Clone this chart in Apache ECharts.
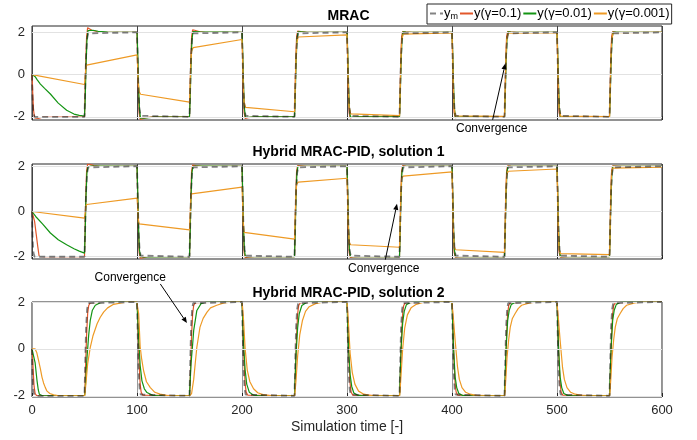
<!DOCTYPE html>
<html><head><meta charset="utf-8">
<script src="https://cdn.jsdelivr.net/npm/echarts@6/dist/echarts.min.js"></script>
<style>html,body{margin:0;padding:0;background:#fff}#c{width:697px;height:440px}</style>
</head><body><div id="c"></div>
<script>
// ---------------- data (time, value) ----------------
const xTicks = [0, 100, 200, 300, 400, 500, 600];
const yTicks = [-2, 0, 2];
const titles = ['MRAC', 'Hybrid MRAC-PID, solution 1', 'Hybrid MRAC-PID, solution 2'];
const seriesNames = ['y_m', 'y(γ=0.1)', 'y(γ=0.01)', 'y(γ=0.001)'];

// reference model output (same in the three panels)
const ym = [[0,0],[0.5,-1.1],[1,-1.6],[1.5,-1.85],[2.5,-2],[50,-2],
[50.5,-1],[51,0],[51.5,0.9],[52.5,1.7],[53.5,1.95],[55,2],[100,2],
[100.5,1],[101,0],[101.5,-0.9],[102.5,-1.7],[103.5,-1.95],[105,-2],[150,-2],
[150.5,-1],[151,0],[151.5,0.9],[152.5,1.7],[153.5,1.95],[155,2],[200,2],
[200.5,1],[201,0],[201.5,-0.9],[202.5,-1.7],[203.5,-1.95],[205,-2],[250,-2],
[250.5,-1],[251,0],[251.5,0.9],[252.5,1.7],[253.5,1.95],[255,2],[300,2],
[300.5,1],[301,0],[301.5,-0.9],[302.5,-1.7],[303.5,-1.95],[305,-2],[350,-2],
[350.5,-1],[351,0],[351.5,0.9],[352.5,1.7],[353.5,1.95],[355,2],[400,2],
[400.5,1],[401,0],[401.5,-0.9],[402.5,-1.7],[403.5,-1.95],[405,-2],[450,-2],
[450.5,-1],[451,0],[451.5,0.9],[452.5,1.7],[453.5,1.95],[455,2],[500,2],
[500.5,1],[501,0],[501.5,-0.9],[502.5,-1.7],[503.5,-1.95],[505,-2],[550,-2],
[550.5,-1],[551,0],[551.5,0.9],[552.5,1.7],[553.5,1.95],[555,2],[600,2]];

// panel 1 : MRAC
const mrac_g1 = [[0,0],[0.7,-0.9],[1.5,-1.7],[2.5,-2.05],[4,-2.12],[6,-2.08],[10,-2.02],[50,-2],
[50.5,-1.0],[51.2,0.6],[52,1.8],[53,2.22],[54.5,2.2],[57,2.1],[62,2.04],[70,2.0],[100,2],
[100.5,1.0],[101.2,-0.6],[102,-1.8],[103,-2.12],[105,-2.1],[109,-2.04],[115,-2],[150,-2],
[150.5,-1.0],[151.2,0.6],[152,1.8],[153,2.12],[155,2.1],[159,2.04],[165,2],[200,2],
[200.5,1.0],[201.2,-0.6],[202,-1.8],[203,-2.07],[206,-2.04],[212,-2],[250,-2],
[250.5,-1.0],[251.2,0.6],[252,1.8],[253,2.06],[256,2.03],[262,2],[300,2],
[300.5,1.0],[301.2,-0.6],[302,-1.8],[303,-2.05],[306,-2.02],[312,-2],[350,-2],
[350.5,-1.0],[351.2,0.6],[352,1.8],[353,2.04],[356,2.02],[362,2],[400,2],
[400.5,1.0],[401.2,-0.6],[402,-1.8],[403,-2.04],[406,-2.02],[412,-2],[450,-2],
[450.5,-1.0],[451.2,0.6],[452,1.8],[453,2.04],[456,2.02],[462,2],[500,2],
[500.5,1.0],[501.2,-0.6],[502,-1.8],[503,-2.03],[506,-2.01],[512,-2],[550,-2],
[550.5,-1.0],[551.2,0.6],[552,1.8],[553,2.03],[556,2.01],[562,2],[600,2]];
const mrac_g2 = [[0,0],[3,-0.1],[5,-0.25],[8,-0.45],[12,-0.65],[17.5,-0.92],[25,-1.35],[33,-1.69],[40,-1.87],[45,-1.93],[50,-1.96],
[50.6,-1.3],[51.4,0.3],[52.3,1.6],[53.3,2.08],[55,2.14],[58,2.1],[63,2.05],[72,2.01],[100,2],
[100.6,1.2],[101.4,-0.4],[102.3,-1.6],[103.3,-2.06],[105,-2.1],[109,-2.05],[116,-2.01],[150,-2],
[150.6,-1.2],[151.4,0.4],[152.3,1.6],[153.3,2.04],[155,2.06],[160,2.02],[200,2],
[200.6,1.2],[201.4,-0.4],[202.3,-1.6],[203.3,-2.03],[206,-2.03],[212,-2],[250,-2],
[250.6,-1.2],[251.4,0.4],[252.3,1.6],[253.3,2.02],[256,2.02],[262,2],[300,2],
[300.6,1.2],[301.4,-0.4],[302.3,-1.6],[303.3,-2.02],[306,-2.01],[312,-2],[350,-2],
[350.6,-1.2],[351.4,0.4],[352.3,1.6],[353.3,2.02],[356,2.01],[362,2],[400,2],
[400.6,1.2],[401.4,-0.4],[402.3,-1.6],[403.3,-2.02],[406,-2.01],[412,-2],[450,-2],
[450.6,-1.2],[451.4,0.4],[452.3,1.6],[453.3,2.02],[456,2.01],[462,2],[500,2],
[500.6,1.2],[501.4,-0.4],[502.3,-1.6],[503.3,-2.01],[512,-2],[550,-2],
[550.6,-1.2],[551.4,0.4],[552.3,1.6],[553.3,2.01],[562,2],[600,2]];
const mrac_g3 = [[0,0],[50,-0.47],[50.5,-0.2],[51.2,0.25],[52,0.45],[53.5,0.52],[100,0.93],
[100.5,0.5],[101.2,-0.4],[102,-0.8],[103.5,-0.93],[150,-1.3],
[150.5,-0.7],[151.2,0.5],[152,1.1],[153.5,1.28],[200,1.66],
[200.5,1.0],[201.2,-0.5],[202,-1.3],[203.5,-1.55],[250,-1.76],
[250.5,-1.1],[251.2,0.4],[252,1.45],[253.5,1.78],[300,1.88],
[300.5,1.2],[301.2,-0.4],[302,-1.5],[303.5,-1.86],[350,-1.94],
[350.5,-1.2],[351.2,0.4],[352,1.6],[353.5,1.92],[400,1.97],
[400.5,1.2],[401.2,-0.4],[402,-1.6],[403.5,-1.95],[450,-1.98],
[450.5,-1.2],[451.2,0.4],[452,1.6],[453.5,1.96],[500,1.99],
[500.5,1.2],[501.2,-0.4],[502,-1.6],[503.5,-1.97],[550,-1.99],
[550.5,-1.2],[551.2,0.4],[552,1.6],[553.5,1.98],[600,2]];

// panel 2 : hybrid solution 1
const sol1_g1 = [[0,0],[1.3,0],[2.5,-0.45],[4,-1.0],[5.5,-1.55],[6.8,-1.98],[8,-2.02],[12,-2],[50,-2],
[50.5,-1.0],[51.2,0.6],[52,1.8],[53,2.1],[55,2.08],[59,2.03],[65,2],[100,2],
[100.5,1.0],[101.2,-0.6],[102,-1.8],[103,-2.06],[105,-2.05],[110,-2],[150,-2],
[150.5,-1.0],[151.2,0.6],[152,1.8],[153,2.05],[156,2.03],[162,2],[200,2],
[200.5,1.0],[201.2,-0.6],[202,-1.8],[203,-2.04],[206,-2.02],[212,-2],[250,-2],
[250.5,-1.0],[251.2,0.6],[252,1.8],[253,2.03],[256,2.02],[262,2],[300,2],
[300.5,1.0],[301.2,-0.6],[302,-1.8],[303,-2.03],[306,-2.01],[312,-2],[350,-2],
[350.5,-1.0],[351.2,0.6],[352,1.8],[353,2.03],[356,2.01],[362,2],[400,2],
[400.5,1.0],[401.2,-0.6],[402,-1.8],[403,-2.02],[406,-2.01],[412,-2],[450,-2],
[450.5,-1.0],[451.2,0.6],[452,1.8],[453,2.02],[456,2.01],[462,2],[500,2],
[500.5,1.0],[501.2,-0.6],[502,-1.8],[503,-2.02],[512,-2],[550,-2],
[550.5,-1.0],[551.2,0.6],[552,1.8],[553,2.02],[562,2],[600,2]];
const sol1_g2 = [[0,0],[3.5,-0.22],[10,-0.55],[17.5,-0.95],[25,-1.25],[33,-1.47],[40,-1.65],[45,-1.75],[50,-1.84],
[50.6,-1.0],[51.4,0.6],[52.3,1.7],[53.3,1.98],[56,2.01],[100,2],
[100.6,1.0],[101.4,-0.6],[102.3,-1.7],[103.3,-2.0],[106,-2.01],[150,-2],
[150.6,-1.0],[151.4,0.6],[152.3,1.7],[153.3,2.0],[156,2.01],[200,2],
[200.6,1.0],[201.4,-0.6],[202.3,-1.7],[203.3,-2.0],[250,-2],
[250.6,-1.0],[251.4,0.6],[252.3,1.7],[253.3,2.0],[300,2],
[300.6,1.0],[301.4,-0.6],[302.3,-1.7],[303.3,-2.0],[350,-2],
[350.6,-1.0],[351.4,0.6],[352.3,1.7],[353.3,2.0],[400,2],
[400.6,1.0],[401.4,-0.6],[402.3,-1.7],[403.3,-2.0],[450,-2],
[450.6,-1.0],[451.4,0.6],[452.3,1.7],[453.3,2.0],[500,2],
[500.6,1.0],[501.4,-0.6],[502.3,-1.7],[503.3,-2.0],[550,-2],
[550.6,-1.0],[551.4,0.6],[552.3,1.7],[553.3,2.0],[600,2]];
const sol1_g3 = [[0,0],[50,-0.29],[50.5,-0.1],[51.2,0.2],[52,0.31],[53.5,0.34],[100,0.59],
[100.5,0.3],[101.2,-0.3],[102,-0.55],[103.5,-0.6],[150,-0.81],
[150.5,-0.3],[151.2,0.5],[152,0.78],[153.5,0.86],[200,1.08],
[200.5,0.5],[201.2,-0.5],[202,-0.92],[203.5,-1.0],[250,-1.22],
[250.5,-0.6],[251.2,0.6],[252,1.2],[253.5,1.3],[300,1.47],
[300.5,0.8],[301.2,-0.6],[302,-1.35],[303.5,-1.47],[350,-1.58],
[350.5,-0.9],[351.2,0.6],[352,1.45],[353.5,1.56],[400,1.75],
[400.5,1.0],[401.2,-0.6],[402,-1.55],[403.5,-1.69],[450,-1.81],
[450.5,-1.0],[451.2,0.6],[452,1.6],[453.5,1.78],[500,1.88],
[500.5,1.1],[501.2,-0.6],[502,-1.7],[503.5,-1.86],[550,-1.91],
[550.5,-1.1],[551.2,0.6],[552,1.75],[553.5,1.92],[600,1.96]];

// panel 3 : hybrid solution 2
const sol2_g1 = [[0,0],[0.5,-0.3],[1.2,-1.0],[2,-1.6],[3,-1.9],[4.5,-2],[50,-2],
[50.5,-1.6],[51.2,-0.5],[52,0.6],[53,1.5],[54,1.85],[55.5,1.97],[57,2],[100,2],
[100.5,1.6],[101.2,0.5],[102,-0.6],[103,-1.5],[104,-1.85],[105.5,-1.97],[107,-2],[150,-2],
[150.5,-1.6],[151.2,-0.5],[152,0.6],[153,1.5],[154,1.85],[155.5,1.97],[157,2],[200,2],
[200.5,1.6],[201.2,0.5],[202,-0.6],[203,-1.5],[204,-1.85],[205.5,-1.97],[207,-2],[250,-2],
[250.5,-1.6],[251.2,-0.5],[252,0.6],[253,1.5],[254,1.85],[255.5,1.97],[257,2],[300,2],
[300.5,1.6],[301.2,0.5],[302,-0.6],[303,-1.5],[304,-1.85],[305.5,-1.97],[307,-2],[350,-2],
[350.5,-1.6],[351.2,-0.5],[352,0.6],[353,1.5],[354,1.85],[355.5,1.97],[357,2],[400,2],
[400.5,1.6],[401.2,0.5],[402,-0.6],[403,-1.5],[404,-1.85],[405.5,-1.97],[407,-2],[450,-2],
[450.5,-1.6],[451.2,-0.5],[452,0.6],[453,1.5],[454,1.85],[455.5,1.97],[457,2],[500,2],
[500.5,1.6],[501.2,0.5],[502,-0.6],[503,-1.5],[504,-1.85],[505.5,-1.97],[507,-2],[550,-2],
[550.5,-1.6],[551.2,-0.5],[552,0.6],[553,1.5],[554,1.85],[555.5,1.97],[557,2],[600,2]];
const sol2_g2 = [[0,0],[1.5,-0.05],[3,-0.6],[4.8,-1.36],[6,-1.75],[7,-1.93],[10,-2],[50,-2],
[50.5,-1.85],[51.5,-1.1],[52.4,-0.36],[54,0.6],[55.5,1.22],[57.5,1.65],[60.3,1.86],[65,1.97],[70,2],[100,2],
[100.5,1.5],[101.5,0.5],[103,-0.7],[104.7,-1.36],[107,-1.7],[109.5,-1.86],[115,-1.98],[120,-2],[150,-2],
[150.5,-1.5],[151.5,-0.6],[153,0.2],[154,0.79],[157,1.64],[161,1.93],[166,2],[200,2],
[200.5,1.4],[201.5,0.2],[203,-0.9],[204.5,-1.5],[207,-1.85],[211,-1.97],[216,-2],[250,-2],
[250.5,-1.4],[251.5,-0.2],[253,0.9],[254.5,1.5],[257,1.85],[261,1.97],[266,2],[300,2],
[300.5,1.3],[301.5,0.0],[303,-1.1],[304.5,-1.6],[306.5,-1.88],[310,-1.97],[315,-2],[350,-2],
[350.5,-1.3],[351.5,0.0],[353,1.1],[354.5,1.6],[356.5,1.88],[360,1.97],[365,2],[400,2],
[400.5,1.3],[401.5,0.0],[403,-1.2],[404.5,-1.65],[406.5,-1.9],[410,-1.98],[414,-2],[450,-2],
[450.5,-1.3],[451.5,0.0],[453,1.2],[454.5,1.65],[456.5,1.9],[460,1.98],[464,2],[500,2],
[500.5,1.3],[501.5,0.0],[503,-1.2],[504.5,-1.65],[506.5,-1.9],[510,-1.98],[514,-2],[550,-2],
[550.5,-1.3],[551.5,0.0],[553,1.2],[554.5,1.65],[556.5,1.9],[560,1.98],[564,2],[600,2]];
const sol2_g3 = [[0,0],[3,0],[4.5,-0.15],[6.3,-0.5],[8,-0.85],[9.5,-1.2],[11,-1.45],[12.7,-1.65],[14.3,-1.8],[17,-1.9],[20.6,-1.96],[26,-2],[50,-2],
[50.5,-1.9],[51.5,-1.4],[53,-0.64],[55.5,0.07],[58,0.55],[62,1.07],[65,1.35],[68.2,1.57],[72,1.75],[77.7,1.9],[85,1.96],[92,2],[100,2],
[100.5,1.8],[101.6,1.5],[103,0.1],[104.5,-0.45],[106.3,-0.93],[109,-1.4],[112.7,-1.65],[117,-1.85],[122,-1.93],[128,-1.98],[135,-2],[150,-2],
[150.5,-1.97],[152,-1.9],[154,-1.3],[155.5,-0.6],[157,0.07],[160,0.93],[163,1.3],[166.7,1.57],[170,1.75],[176,1.86],[182,1.95],[190,2],[200,2],
[200.5,1.8],[201.5,1.2],[203,0.0],[205,-0.9],[207.5,-1.4],[211,-1.7],[215,-1.87],[220,-1.95],[228,-2],[250,-2],
[250.5,-1.85],[251.5,-1.3],[253,-0.3],[255,0.6],[257.5,1.2],[260.5,1.6],[264,1.8],[270,1.93],[278,2],[300,2],
[300.5,1.7],[301.5,1.0],[303,-0.2],[305,-1.0],[307.5,-1.5],[311,-1.8],[316,-1.93],[324,-2],[350,-2],
[350.5,-1.8],[351.5,-1.1],[353,0.0],[355,0.9],[357.5,1.45],[361,1.75],[366,1.9],[374,2],[400,2],
[400.5,1.7],[401.5,1.2],[403,0.36],[405.3,-0.79],[407,-1.3],[409.5,-1.65],[413,-1.85],[417.4,-1.93],[425,-2],[450,-2],
[450.5,-1.8],[451.5,-1.1],[452.4,-0.36],[454,0.4],[455.5,0.93],[457.5,1.3],[460,1.5],[463,1.72],[466.3,1.86],[474,1.96],[482,2],[500,2],
[500.5,1.7],[501.5,1.2],[503,0.36],[505.3,-0.8],[507,-1.3],[509.5,-1.65],[513,-1.85],[517.4,-1.93],[525,-2],[550,-2],
[550.5,-1.8],[551.5,-1.1],[552.4,-0.36],[554,0.4],[555.5,0.93],[557.5,1.3],[560,1.5],[563,1.72],[566.3,1.86],[574,1.96],[582,2],[600,2]];

// annotations: text anchor and arrow (data units of each panel)
const annotations = [
  {grid: 0, label: 'Convergence', at: [437.8, -2.56], from: [438.7, -2.14], to: [450.8, 0.53]},
  {grid: 1, label: 'Convergence', at: [335.0, -2.52], from: [336.5, -2.13], to: [347.6, 0.34]},
  {grid: 2, label: 'Convergence', at: [93.6, 3.02],  from: [122.2, 2.77], to: [147.6, 1.10]}
];

const panels = [
  {data: [mrac_g1, mrac_g2, mrac_g3], yMin: -2.15, yMax: 2.3},
  {data: [sol1_g1, sol1_g2, sol1_g3], yMin: -2.1, yMax: 2.1},
  {data: [sol2_g1, sol2_g2, sol2_g3], yMin: -2.05, yMax: 2.0}
];

// ---------------- styling ----------------
const FONT = 'Liberation Sans, Arial, Helvetica, sans-serif';
const colors = ['#E2572B', '#139413', '#EE9A25'];
const gridTops = [26, 164, 302];
const gridH = [94, 95, 95];
const vColors = ['#444', '#444', '#9a9a9a'];

const grids = [], xAxes = [], yAxes = [], series = [];
panels.forEach((p, i) => {
  grids.push({left: 32, top: gridTops[i], width: 630, height: gridH[i], show: true,
    borderColor: '#262626', borderWidth: 1, backgroundColor: 'transparent'});
  xAxes.push({type: 'value', gridIndex: i, min: 0, max: 600, interval: 100,
    axisLine: {show: false, onZero: false},
    axisTick: {show: true, inside: true, length: 4, lineStyle: {color: '#262626'}},
    axisLabel: {show: i === 2, fontSize: 13, color: '#262626', fontFamily: FONT, margin: 7},
    splitLine: {show: true, lineStyle: {color: vColors[i], width: 1}},
    name: i === 2 ? 'Simulation time [-]' : '', nameLocation: 'middle', nameGap: 23,
    nameTextStyle: {fontSize: 14, color: '#262626', fontFamily: FONT}});
  ['left', 'right'].forEach(pos => {
    yAxes.push({type: 'value', gridIndex: i, position: pos, min: p.yMin, max: p.yMax,
      axisLine: {show: false},
      axisTick: {show: true, inside: true, length: 4, customValues: yTicks, lineStyle: {color: '#262626'}},
      axisLabel: {show: pos === 'left', customValues: yTicks, fontSize: 13, color: '#262626', fontFamily: FONT, margin: 7},
      splitLine: {show: false}});
  });
  // horizontal grid lines
  series.push({type: 'line', name: 'grid' + i, xAxisIndex: i, yAxisIndex: 2 * i, data: [], z: 1, silent: true,
    markLine: {silent: true, symbol: ['none', 'none'], label: {show: false}, animation: false,
      lineStyle: {color: '#e2e2e2', type: 'solid', width: 1},
      data: yTicks.map(v => ({yAxis: v}))}});
  p.data.forEach((d, k) => {
    series.push({type: 'line', name: seriesNames[k + 1], xAxisIndex: i, yAxisIndex: 2 * i, data: d,
      symbol: 'none', showSymbol: false, z: 2 + k, lineStyle: {color: colors[k], width: 1.2}, itemStyle: {color: colors[k]}});
  });
  series.push({type: 'line', name: seriesNames[0], xAxisIndex: i, yAxisIndex: 2 * i, data: ym,
    symbol: 'none', showSymbol: false, z: 6, lineStyle: {color: 'rgba(30,30,30,0.55)', width: 1.8, type: [6, 4]},
    itemStyle: {color: 'rgba(30,30,30,0.8)'}});
});

const chart = echarts.init(document.getElementById('c'), null, {renderer: 'canvas'});
chart.setOption({
  animation: false,
  backgroundColor: '#fff',
  title: titles.map((t, i) => ({text: t, left: 'center', top: [4, 140, 281][i],
    textStyle: {fontSize: 14, fontWeight: 'bold', color: '#000', fontFamily: FONT}})),
  legend: {
    data: seriesNames, left: 427, top: 4, itemWidth: 13, itemHeight: 8, itemGap: 1,
    padding: [3, 2, 3, 2], borderColor: '#262626', borderWidth: 1, backgroundColor: '#fff',
    itemStyle: {opacity: 0},
    textStyle: {fontSize: 13, color: '#000', fontFamily: FONT, padding: [0, 0, 0, -4],
      rich: {a: {fontSize: 13, fontFamily: FONT, color: '#000'},
             b: {fontSize: 9, fontFamily: FONT, color: '#000', verticalAlign: 'bottom', padding: [6, 0, 0, 0]}}},
    formatter: n => n === 'y_m' ? '{a|y}{b|m}' : n,
    z: 20
  },
  grid: grids, xAxis: xAxes, yAxis: yAxes, series: series
});

// annotations via the panels' own coordinate systems
const g = [];
annotations.forEach(a => {
  const t = chart.convertToPixel({gridIndex: a.grid}, a.at);
  const f = chart.convertToPixel({gridIndex: a.grid}, a.from);
  const e = chart.convertToPixel({gridIndex: a.grid}, a.to);
  g.push({type: 'text', x: t[0], y: t[1], z: 30, style: {text: a.label, fontSize: 12, fontFamily: FONT,
    fill: '#000', align: 'center', verticalAlign: 'middle'}});
  const dx = e[0] - f[0], dy = e[1] - f[1], L = Math.hypot(dx, dy), ux = dx / L, uy = dy / L;
  const hl = 6, hw = 2.6;
  const bx = e[0] - ux * hl, by = e[1] - uy * hl;
  g.push({type: 'line', z: 30, shape: {x1: f[0], y1: f[1], x2: bx, y2: by}, style: {stroke: '#000', lineWidth: 1}});
  g.push({type: 'polygon', z: 30, shape: {points: [[e[0], e[1]], [bx - uy * hw, by + ux * hw], [bx + uy * hw, by - ux * hw]]},
    style: {fill: '#000'}});
});
chart.setOption({graphic: g});
</script></body></html>
